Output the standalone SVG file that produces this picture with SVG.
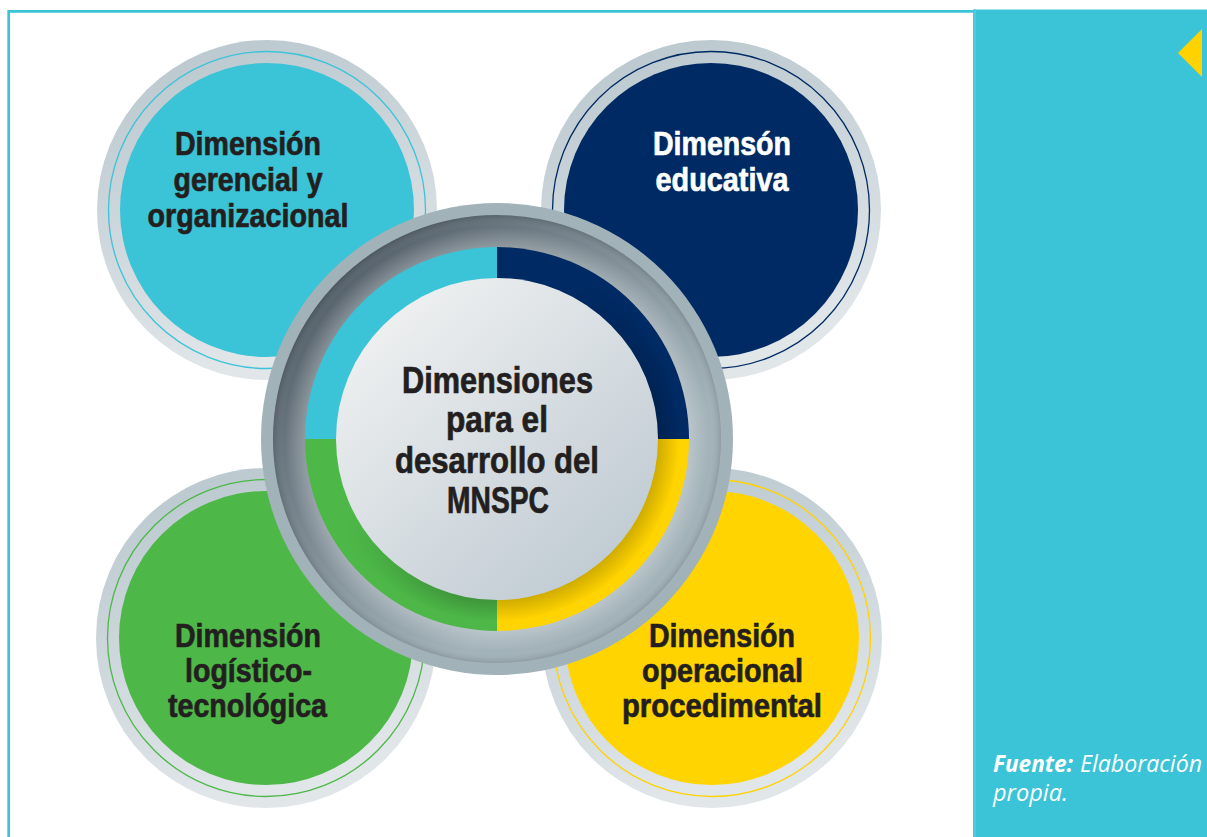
<svg xmlns="http://www.w3.org/2000/svg" width="1207" height="837" viewBox="0 0 1207 837">
  <defs>
    <linearGradient id="ringGray" x1="0" y1="0" x2="0.3" y2="1">
      <stop offset="0" stop-color="#B7C6CD"/>
      <stop offset="1" stop-color="#E1E6E9"/>
    </linearGradient>
    <linearGradient id="bevel" x1="0.1" y1="0.1" x2="0.9" y2="0.9">
      <stop offset="0" stop-color="#4F5A64"/>
      <stop offset="0.5" stop-color="#8A99A1"/>
      <stop offset="0.75" stop-color="#A2B2B9"/>
      <stop offset="1" stop-color="#A2B2B9"/>
    </linearGradient>
    <radialGradient id="bevelShade" cx="0.5" cy="0.5" r="0.5">
      <stop offset="0.857" stop-color="#FFFFFF" stop-opacity="0.25"/>
      <stop offset="0.95" stop-color="#FFFFFF" stop-opacity="0"/>
      <stop offset="1" stop-color="#000000" stop-opacity="0.12"/>
    </radialGradient>
    <linearGradient id="disk" x1="0.15" y1="0.1" x2="0.85" y2="0.9">
      <stop offset="0" stop-color="#EEF0F0"/>
      <stop offset="1" stop-color="#C0CBD3"/>
    </linearGradient>
    <radialGradient id="innerShadow" cx="0.5" cy="0.5" r="0.5">
      <stop offset="0.83" stop-color="#000000" stop-opacity="0.2"/>
      <stop offset="0.95" stop-color="#000000" stop-opacity="0"/>
    </radialGradient>
    <linearGradient id="fadeMaskGrad" x1="0.2" y1="0.2" x2="0.8" y2="0.8">
      <stop offset="0.35" stop-color="#000"/>
      <stop offset="0.75" stop-color="#fff"/>
    </linearGradient>
    <mask id="fadeMask" maskUnits="userSpaceOnUse" x="300" y="240" width="400" height="400">
      <rect x="300" y="240" width="400" height="400" fill="url(#fadeMaskGrad)"/>
    </mask>
    <style>
      .t { font-family: "Liberation Sans", Arial, sans-serif; font-weight: bold; font-size: 34px; fill: #231F20; stroke: #231F20; stroke-width: 0.7; text-anchor: middle; }
      .w { fill: #FFFFFF; stroke: #FFFFFF; }
      .c { font-size: 36px; }
      .f { font-family: "Open Sans", "Liberation Sans", sans-serif; font-style: italic; font-size: 23px; fill: #FFFFFF; }
    </style>
  </defs>

  <rect x="0" y="0" width="1207" height="837" fill="#FFFFFF"/>

  <g id="frame">
    <path d="M8.7 837 V11.3 H975" fill="none" stroke="#3BC3D7" stroke-width="2.7"/>
    <rect x="973" y="9.5" width="234" height="827.5" fill="#3BC3D7"/>
    <rect x="973.5" y="9.5" width="2.5" height="827.5" fill="#52CADB"/>
    <polygon points="1178,53 1202,29 1202,77" fill="#FFD200"/>
  </g>

  <g id="node-gerencial">
    <circle cx="267" cy="210" r="170" fill="url(#ringGray)"/>
    <circle cx="267" cy="210" r="158.5" fill="none" stroke="#3BC3D7" stroke-width="1.3"/>
    <circle cx="267" cy="210" r="147" fill="#3BC3D7"/>
    <text class="t" x="248" y="155" textLength="146" lengthAdjust="spacingAndGlyphs">Dimensión</text>
    <text class="t" x="248" y="191" textLength="149" lengthAdjust="spacingAndGlyphs">gerencial y</text>
    <text class="t" x="248" y="227" textLength="201" lengthAdjust="spacingAndGlyphs">organizacional</text>
  </g>

  <g id="node-educativa">
    <circle cx="711" cy="210" r="170" fill="url(#ringGray)"/>
    <circle cx="711" cy="210" r="158.5" fill="none" stroke="#002A63" stroke-width="1.3"/>
    <circle cx="711" cy="210" r="147" fill="#002A63"/>
    <text class="t w" x="722" y="155" textLength="138" lengthAdjust="spacingAndGlyphs">Dimensón</text>
    <text class="t w" x="722" y="191" textLength="133" lengthAdjust="spacingAndGlyphs">educativa</text>
  </g>

  <g id="node-logistico">
    <circle cx="266" cy="638" r="170" fill="url(#ringGray)"/>
    <circle cx="266" cy="638" r="158.5" fill="none" stroke="#4DB848" stroke-width="1.3"/>
    <circle cx="266" cy="638" r="147" fill="#4DB848"/>
    <text class="t" x="248" y="647" textLength="146" lengthAdjust="spacingAndGlyphs">Dimensión</text>
    <text class="t" x="248.5" y="682" textLength="127" lengthAdjust="spacingAndGlyphs">logístico-</text>
    <text class="t" x="247.5" y="717" textLength="159" lengthAdjust="spacingAndGlyphs">tecnológica</text>
  </g>

  <g id="node-operacional">
    <circle cx="712" cy="638" r="170" fill="url(#ringGray)"/>
    <circle cx="712" cy="638" r="158.5" fill="none" stroke="#FFD200" stroke-width="1.3"/>
    <circle cx="712" cy="638" r="147" fill="#FFD400"/>
    <text class="t" x="722" y="647" textLength="146" lengthAdjust="spacingAndGlyphs">Dimensión</text>
    <text class="t" x="722.5" y="682" textLength="161" lengthAdjust="spacingAndGlyphs">operacional</text>
    <text class="t" x="722" y="717" textLength="200" lengthAdjust="spacingAndGlyphs">procedimental</text>
  </g>

  <g id="node-center">
    <circle cx="497" cy="439" r="236" fill="#A2B2B9"/>
    <circle cx="497" cy="439" r="224" fill="url(#bevel)"/>
    <circle cx="497" cy="439" r="224" fill="url(#bevelShade)"/>
    <path d="M497 439 V247 A192 192 0 0 0 305 439 Z" fill="#3BC3D7"/>
    <path d="M497 439 V247 A192 192 0 0 1 689 439 Z" fill="#002A63"/>
    <path d="M497 439 H689 A192 192 0 0 1 497 631 Z" fill="#FFD400"/>
    <path d="M497 439 V631 A192 192 0 0 1 305 439 Z" fill="#4DB848"/>
    <circle cx="497" cy="439" r="192" fill="url(#innerShadow)" mask="url(#fadeMask)"/>
    <circle cx="497" cy="439" r="161" fill="url(#disk)"/>
    <text class="t c" x="497.5" y="393" textLength="191" lengthAdjust="spacingAndGlyphs">Dimensiones</text>
    <text class="t c" x="497" y="432" textLength="102" lengthAdjust="spacingAndGlyphs">para el</text>
    <text class="t c" x="497" y="473" textLength="204" lengthAdjust="spacingAndGlyphs">desarrollo del</text>
    <text class="t c" x="498" y="513" textLength="102" lengthAdjust="spacingAndGlyphs">MNSPC</text>
  </g>

  <g id="source-note">
    <text class="f" x="993" y="772"><tspan font-weight="bold" textLength="80" lengthAdjust="spacingAndGlyphs">Fuente:</tspan><tspan x="1080" textLength="122" lengthAdjust="spacingAndGlyphs">Elaboración</tspan></text>
    <text class="f" x="993" y="801" textLength="75" lengthAdjust="spacingAndGlyphs">propia.</text>
  </g>
</svg>
